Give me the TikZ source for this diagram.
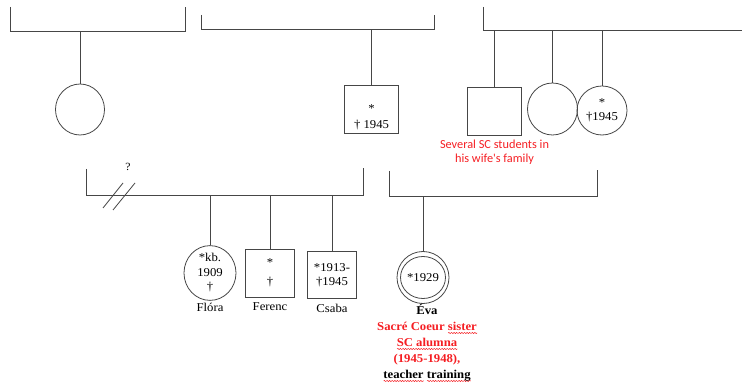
\documentclass[tikz,border=0pt]{standalone}
\usepackage{fontspec}
\setmainfont{Liberation Serif}[FakeStretch=1.06]
\newfontfamily\notefont{Carlito}
\usetikzlibrary{positioning,shapes.geometric,decorations.pathmorphing}
\definecolor{notered}{RGB}{245,30,35}
\definecolor{linegray}{RGB}{70,70,70}
\newlength{\wavewd}
\newcommand{\sqwave}[1]{\setbox0\hbox{#1}\setlength{\wavewd}{\wd0}%
  \rlap{\tikz[baseline=0pt]\draw[notered,line width=0.5pt,decorate,decoration={snake,amplitude=0.6pt,segment length=2.6pt}] (0pt,-2.6pt) -- (\wavewd,-2.6pt);}#1}

\begin{document}
\begin{tikzpicture}[x=1pt,y=-1pt,
  lin/.style={draw=linegray,line width=0.8pt},
  fem/.style={lin,ellipse,minimum width=50pt,minimum height=50pt,inner sep=0pt,align=center,font=\fontsize{12}{14.5}\selectfont},
  male/.style={lin,rectangle,minimum width=54pt,minimum height=48pt,inner sep=0pt,align=center,font=\fontsize{12}{14.5}\selectfont},
  nm/.style={font=\fontsize{12}{14}\selectfont,inner sep=0pt},
  note/.style={font=\notefont\fontsize{12.3}{14}\selectfont,text=notered,align=center,inner sep=0pt},
  qm/.style={font=\fontsize{11}{12}\selectfont,inner sep=0pt}]
\useasboundingbox (0,0) rectangle (742,382);
% ---- top brackets ----
\coordinate (b1) at (10.5,31);
\coordinate (b2) at (201,29);
\coordinate (b3) at (483,30);
\draw[lin] (10.5,7) -- (b1) -- (185.5,31) -- (185.5,7);
\draw[lin] (201,15) -- (b2) -- (434.5,29) -- (434.5,15);
\draw[lin] (483,7) -- (b3) -- (742,30);
% ---- parents' generation ----
\node[fem,minimum width=49pt,minimum height=51pt] (c1) at (80,109.5) {};
\node[male] (sq2) at (371.5,109) {\rule{0pt}{24pt}*\\[2pt]† 1945};
\node[male,minimum height=48pt] (sq3) at (494,111) {};
\node[fem,minimum height=52pt] (c4) at (552.5,109) {};
\node[fem,minimum height=49pt] (c5) at (602,110.5) {*\\†1945};
\node[note,below=4pt of sq3.south,xshift=0.5pt] (nt) {Several SC students in\\his wife's family};
\draw[lin] (c1.north) -- (c1.north |- b1);
\draw[lin] (sq2.north) -- (sq2.north |- b2);
\draw[lin] (sq3.north) -- (sq3.north |- b3);
\draw[lin] (c4.north) -- (c4.north |- b3);
\draw[lin] (c5.north) -- (c5.north |- b3);
% ---- lower brackets ----
\coordinate (b4) at (86,195);
\coordinate (b5) at (389,196);
\draw[lin] (86,169) -- (b4) -- (363.5,195) -- (363.5,168);
\draw[lin] (389,171) -- (b5) -- (597,196) -- (597,170);
\coordinate (s1a) at (103,208); \coordinate (s1b) at (123,183);
\coordinate (s2a) at (113,210); \coordinate (s2b) at (135,183);
\draw[lin] (s1a) -- (s1b);
\draw[lin] (s2a) -- (s2b);
\node[qm] (q) at (128,167) {?};
% ---- children ----
\node[fem,minimum width=52pt,minimum height=48pt] (fl) at (210,273) {*kb.\\1909\\†};
\node[male,minimum width=49pt,minimum height=48pt] (fe) at (270,273) {*\\[4pt]†};
\node[male,minimum width=49pt,minimum height=47pt] (cs) at (332,275) {*1913-\\†1945};
\node[nm,below=2pt of fl] (fln) {Flóra};
\node[nm,below=5pt of fe] (fen) {Ferenc};
\node[nm,below=5pt of cs] (csn) {Csaba};
\draw[lin] (fl.north) -- (fl.north |- b4);
\draw[lin] (fe.north) -- (fe.north |- b4);
\draw[lin] (cs.north) -- (cs.north |- b4);
% ---- Eva ----
\node[fem,minimum width=52pt,minimum height=52pt] (ev) at (423,277.5) {};
\node[fem,draw,minimum width=42pt,minimum height=42pt] (evi) at (ev.center) {*1929};
\node[nm,align=center,font=\bfseries\fontsize{12}{16}\selectfont,below=0pt of ev,xshift=4pt] (evn)
 {Éva\\
  \textcolor{notered}{Sacré Coeur \sqwave{sister}}\\
  \textcolor{notered}{\sqwave{SC alumna}}\\
  \textcolor{notered}{(1945-1948),}\\
  \sqwave{teacher} \sqwave{training}};
\draw[lin] (ev.north) -- (ev.north |- b5);
\end{tikzpicture}
\end{document}
